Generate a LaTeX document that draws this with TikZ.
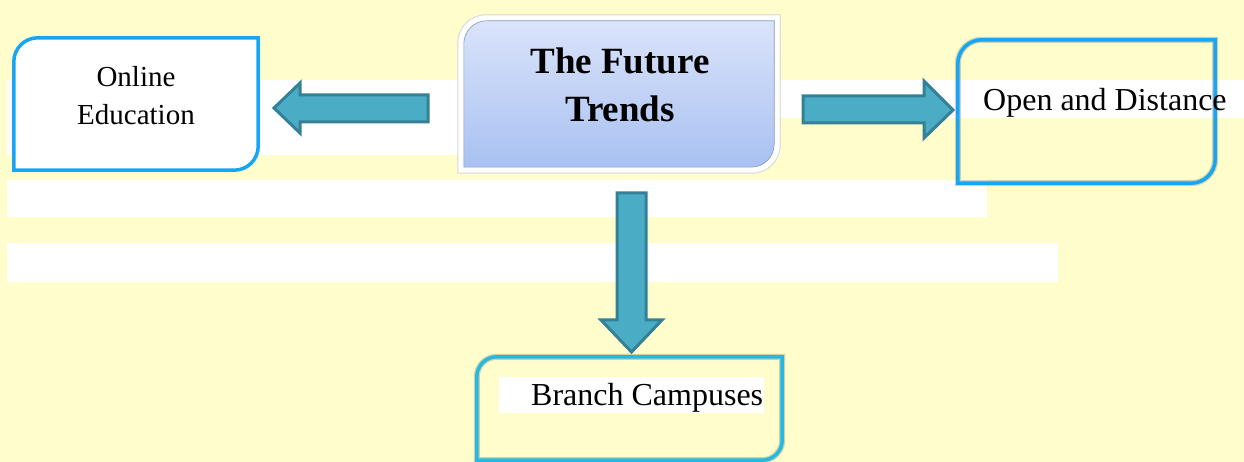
\documentclass[tikz,border=0pt]{standalone}
\usepackage{fontspec}
\setmainfont{Liberation Serif}
\usetikzlibrary{calc}
\definecolor{bgyellow}{RGB}{255,253,204}
\definecolor{skyborder}{RGB}{22,166,245}
\definecolor{cyanborder}{RGB}{35,185,228}
\definecolor{arrowfill}{RGB}{75,172,198}
\definecolor{arrowedge}{RGB}{52,128,150}
\definecolor{titletop}{RGB}{218,227,250}
\definecolor{titlebot}{RGB}{168,193,241}
\newcommand\tlbrpath[4]{%
  \draw[#4] ([shift={(#2,#2)}]#1.south west)
    -- ([shift={(#2,-#2-#3)}]#1.north west)
    arc[start angle=180,end angle=90,radius=#3]
    -- ([shift={(-#2,-#2)}]#1.north east)
    -- ([shift={(-#2,#2+#3)}]#1.south east)
    arc[start angle=0,end angle=-90,radius=#3]
    -- cycle;}
\tikzset{
  boxframe/.style={inner sep=0pt, draw=none},
  blockarrow/.style={fill=arrowfill, draw=arrowedge, line width=3pt, line join=miter},
  shadowline/.style={draw=black, opacity=0.18, line width=6pt},
  txt/.style={inner sep=0pt, text=black},
}
\begin{document}
\begin{tikzpicture}[x=1pt,y=1pt]
\fill[bgyellow] (0,0) rectangle (1244,462);
\useasboundingbox (0,0) rectangle (1244,462);
% white stripes
\fill[white] (7,382) rectangle (780,307);
\fill[white] (780,382) rectangle (1244,344);
\fill[white] (7,282) rectangle (987,245);
\fill[white] (7,219) rectangle (1058,180);

% Online Education box
\node[boxframe, minimum width=244pt, minimum height=132pt] (online) at (136,358) {};
\begin{scope}[shift={(4pt,-4pt)}]
\tlbrpath{online}{0pt}{24pt}{fill=black, draw=none, opacity=0.15}
\end{scope}
\tlbrpath{online}{0pt}{24pt}{fill=white, draw=skyborder, line width=3.5pt}
\node[txt, align=center, font=\fontsize{29}{38}\selectfont] (onlinetxt) at (136,366) {Online\\Education};

% Title box
\node[boxframe, minimum width=322pt, minimum height=158pt] (title) at (619,368) {};
\begin{scope}[shift={(4pt,-4pt)}]
\tlbrpath{title}{0pt}{28pt}{fill=black, draw=none, opacity=0.15}
\end{scope}
\tlbrpath{title}{0pt}{28pt}{fill=white, draw=black!15, line width=1pt}
\tlbrpath{title}{6pt}{23pt}{top color=titletop, bottom color=titlebot, draw=titlebot!80!black, line width=0.6pt}
\node[txt, align=center, font=\fontsize{37}{48}\selectfont\bfseries] (titletxt) at (620,377) {The Future\\Trends};

% Open and Distance box
\node[boxframe, minimum width=257pt, minimum height=143pt] (open) at (1086.5,350.5) {};
\begin{scope}[shift={(3pt,-3pt)}]
\tlbrpath{open}{0pt}{24pt}{shadowline}
\end{scope}
\tlbrpath{open}{0pt}{24pt}{draw=skyborder, line width=3.5pt}
\node[txt, anchor=west, font=\fontsize{32}{36}\selectfont] (opentxt) at (983,359) {Open and Distance};

% Branch Campuses box
\node[boxframe, minimum width=305pt, minimum height=103pt] (branch) at (629.5,53.5) {};
\begin{scope}[shift={(3pt,-3pt)}]
\tlbrpath{branch}{0pt}{20pt}{shadowline}
\end{scope}
\tlbrpath{branch}{0pt}{20pt}{draw=cyanborder, line width=3.5pt}
\fill[white] (499,49) rectangle (764,85);
\node[txt, anchor=west, font=\fontsize{32}{36}\selectfont] (branchtxt) at (531,64) {Branch Campuses};

% block arrows
\draw[blockarrow] (274,354) -- (300,379) -- (300,367) -- (428,367) -- (428,340) -- (300,340) -- (300,329) -- cycle;
\draw[blockarrow] (953,352) -- (924,381) -- (924,366) -- (803,366) -- (803,339) -- (924,339) -- (924,324) -- cycle;
\draw[blockarrow] (631.5,110) -- (601,142) -- (617,142) -- (617,269) -- (646,269) -- (646,142) -- (662,142) -- cycle;
\end{tikzpicture}
\end{document}
